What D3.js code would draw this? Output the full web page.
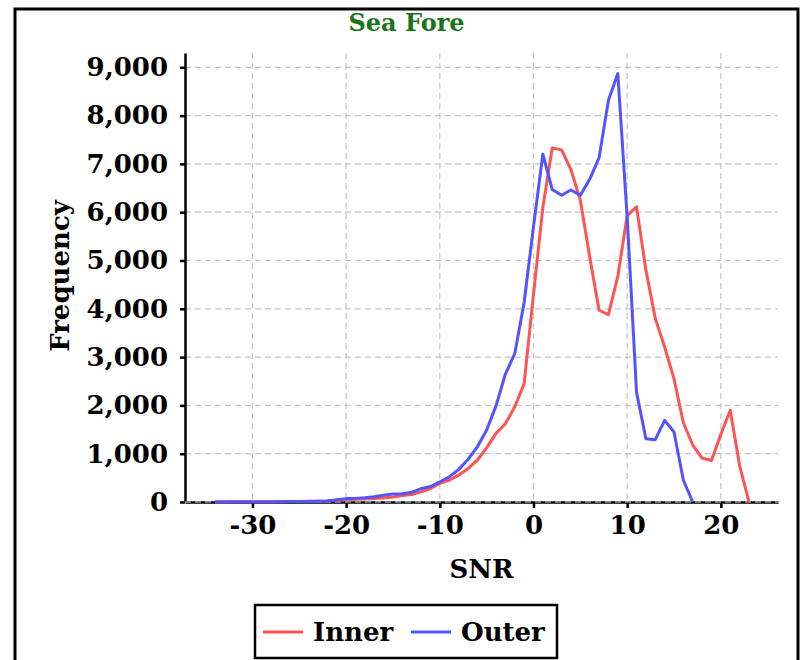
<!DOCTYPE html>
<html>
<head>
<meta charset="utf-8">
<script src="https://cdn.jsdelivr.net/npm/d3@7"></script>
<style>
  body { margin: 0; background: #fff; }
  text { font-family: "DejaVu Serif", serif; font-weight: bold; }
</style>
</head>
<body>
<div id="chart"></div>
<script>
// SNR bins and counts
let innerSnr = d3.range(-34, 24);
let innerFreq = [3, 3, 4, 4, 5, 6, 7, 8, 10, 12, 14, 17, 22, 35, 50, 56, 63, 72, 85, 105,
                 135, 155, 210, 280, 385, 450, 555, 690, 865, 1120, 1420, 1620, 1970, 2450,
                 4300, 6100, 7330, 7290, 6880, 6250, 5080, 3970, 3880, 4670, 5930, 6110,
                 4800, 3800, 3210, 2550, 1640, 1180, 910, 860, 1400, 1900, 760, 0];

let outerSnr = d3.range(-34, 18);
let outerFreq = [2, 2, 3, 3, 4, 5, 6, 7, 8, 10, 12, 15, 20, 45, 70, 75, 90, 110, 140, 165,
                 170, 200, 275, 320, 415, 520, 670, 880, 1140, 1490, 1990, 2650, 3070, 4130,
                 5700, 7200, 6470, 6350, 6460, 6350, 6680, 7130, 8320, 8870, 5900, 2270,
                 1310, 1290, 1690, 1450, 450, 0];

let seriesNames = ["Inner", "Outer"];
let seriesColors = ["#ff5454", "#5454ff"];
let xTicks = [-30, -20, -10, 0, 10, 20];
let yTicks = d3.range(0, 9001, 1000);

let width = 803, height = 660;
let plot = {left: 185, right: 778, top: 53, bottom: 502};

let svg = d3.select("#chart").append("svg")
    .attr("width", width)
    .attr("height", height);

svg.append("rect")
    .attr("width", width).attr("height", height)
    .attr("fill", "#fff");

// outer frame (runs off the bottom)
svg.append("rect")
    .attr("x", 15).attr("y", 9)
    .attr("width", 783).attr("height", 700)
    .attr("fill", "none")
    .attr("stroke", "#000")
    .attr("stroke-width", 3);

let x = d3.scaleLinear().domain([-37.2, 26.1]).range([plot.left, plot.right]);
let y = d3.scaleLinear().domain([0, 9296]).range([plot.bottom, plot.top]);

// grid
let grid = svg.append("g").attr("class", "grid");
grid.selectAll("line.v")
    .data(xTicks)
    .enter().append("line")
    .attr("x1", d => x(d)).attr("x2", d => x(d))
    .attr("y1", plot.top).attr("y2", plot.bottom);
grid.selectAll("line.h")
    .data(yTicks.filter(d => d > 0))
    .enter().append("line")
    .attr("x1", plot.left).attr("x2", plot.right)
    .attr("y1", d => y(d)).attr("y2", d => y(d));
grid.selectAll("line")
    .attr("stroke", "#c4c4c4")
    .attr("stroke-width", 1.2)
    .attr("stroke-dasharray", "6,4");

// axes
let xAxis = svg.append("g")
    .attr("transform", "translate(0," + plot.bottom + ")")
    .call(d3.axisBottom(x).tickValues(xTicks).tickSize(6).tickPadding(8).tickSizeOuter(0)
          .tickFormat(d => String(d)));
let yAxis = svg.append("g")
    .attr("transform", "translate(" + plot.left + ",0)")
    .call(d3.axisLeft(y).tickValues(yTicks).tickSize(5).tickPadding(12).tickSizeOuter(0)
          .tickFormat(d3.format(",")));

[xAxis, yAxis].forEach(function(ax){
    ax.select(".domain").attr("stroke", "#000").attr("stroke-width", 2.5);
    ax.selectAll(".tick line").attr("stroke", "#000").attr("stroke-width", 2.5);
    ax.selectAll(".tick text")
        .attr("fill", "#000")
        .style("font-family", "DejaVu Serif, serif")
        .style("font-weight", "bold")
        .style("font-size", "26px");
});

// zero gridline drawn over the axis line
svg.append("line")
    .attr("x1", plot.left).attr("x2", plot.right)
    .attr("y1", y(0)).attr("y2", y(0))
    .attr("stroke", "#ddd")
    .attr("stroke-width", 1)
    .attr("stroke-dasharray", "6,4");

// lines
let line = d3.line().x(d => x(d[0])).y(d => y(d[1]));
let series = [d3.zip(innerSnr, innerFreq), d3.zip(outerSnr, outerFreq)];
svg.append("g")
    .selectAll("path")
    .data(series)
    .enter().append("path")
    .attr("fill", "none")
    .attr("stroke", (d, i) => seriesColors[i])
    .attr("stroke-width", 3)
    .attr("stroke-linejoin", "round")
    .attr("d", line);

// titles
svg.append("text")
    .attr("x", 406.5).attr("y", 31)
    .attr("text-anchor", "middle")
    .attr("fill", "#1b741b")
    .style("font-size", "24px")
    .text("Sea Fore");

svg.append("text")
    .attr("x", (plot.left + plot.right) / 2).attr("y", 578)
    .attr("text-anchor", "middle")
    .style("font-size", "26px")
    .text("SNR");

svg.append("text")
    .attr("transform", "translate(69,276) rotate(-90)")
    .attr("text-anchor", "middle")
    .style("font-size", "26px")
    .text("Frequency");

// legend
let legend = svg.append("g").attr("transform", "translate(255,605)");
legend.append("rect")
    .attr("width", 302).attr("height", 53)
    .attr("fill", "#fff")
    .attr("stroke", "#000")
    .attr("stroke-width", 2.5);
let legendX = [8, 156];
seriesNames.forEach(function(name, i){
    let g = legend.append("g").attr("transform", "translate(" + legendX[i] + ",0)");
    g.append("line")
        .attr("x1", 0).attr("x2", 40)
        .attr("y1", 27).attr("y2", 27)
        .attr("stroke", seriesColors[i])
        .attr("stroke-width", 3);
    g.append("text")
        .attr("x", 50).attr("y", 36)
        .style("font-size", "26px")
        .text(name);
});
</script>
</body>
</html>
